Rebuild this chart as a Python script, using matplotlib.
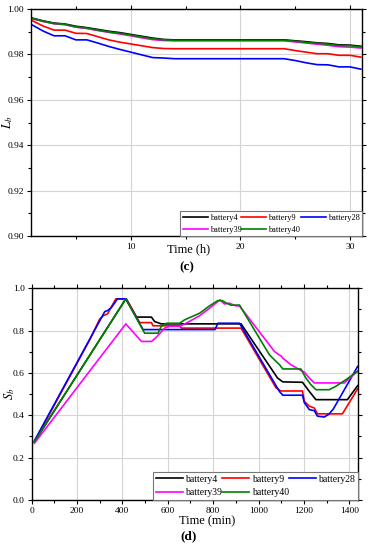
import matplotlib
matplotlib.use('Agg')
import matplotlib.pyplot as plt
from matplotlib.ticker import MultipleLocator, FormatStrFormatter

plt.rcParams['font.family'] = ['Liberation Serif', 'DejaVu Serif']
plt.rcParams['mathtext.fontset'] = 'stix'

names = ['battery4', 'battery9', 'battery28', 'battery39', 'battery40']
colors = ['black', '#ff0000', '#0000ff', '#ff00ff', '#008000']

# (c) Lb vs time in hours
hours = [1, 2, 3, 4, 5, 6, 7, 8, 9, 10, 11, 12, 13, 14, 24, 25, 26, 27, 28, 29, 30, 31]
lb_b4 = [0.9960, 0.9948, 0.9938, 0.9934, 0.9924, 0.9918, 0.9910, 0.9902, 0.9896, 0.9888, 0.9880,
         0.9872, 0.9866, 0.9864, 0.9864, 0.9860, 0.9856, 0.9851, 0.9848, 0.9842, 0.9841, 0.9836]
lb_b9 = [0.9949, 0.9925, 0.9907, 0.9907, 0.9893, 0.9892, 0.9878, 0.9864, 0.9854, 0.9846, 0.9838,
         0.9830, 0.9826, 0.9825, 0.9825, 0.9817, 0.9810, 0.9803, 0.9803, 0.9796, 0.9796, 0.9788]
lb_b28 = [0.9930, 0.9903, 0.9882, 0.9882, 0.9864, 0.9864, 0.9850, 0.9835, 0.9822, 0.9810, 0.9798,
          0.9786, 0.9784, 0.9781, 0.9781, 0.9773, 0.9763, 0.9755, 0.9754, 0.9745, 0.9745, 0.9735]
lb_b39 = [0.9957, 0.9945, 0.9935, 0.9931, 0.9920, 0.9914, 0.9905, 0.9897, 0.9890, 0.9882, 0.9873,
          0.9865, 0.9861, 0.9860, 0.9860, 0.9855, 0.9850, 0.9845, 0.9840, 0.9834, 0.9832, 0.9828]
lb_b40 = [0.9959, 0.9946, 0.9936, 0.9932, 0.9921, 0.9916, 0.9907, 0.9899, 0.9893, 0.9885, 0.9877,
          0.9869, 0.9864, 0.9862, 0.9862, 0.9858, 0.9853, 0.9849, 0.9845, 0.9839, 0.9838, 0.9833]

# (d) Sb vs time in minutes
t4 = [12, 415, 462, 528, 542, 571, 923, 1084, 1107, 1194, 1224, 1253, 1392, 1437]
s4 = [0.275, 0.95, 0.864, 0.864, 0.843, 0.832, 0.832, 0.576, 0.558, 0.556, 0.513, 0.474, 0.474, 0.54]
t9 = [12, 256, 300, 315, 335, 350, 371, 418, 476, 528, 535, 652, 660, 923, 1077, 1099, 1194, 1202,
      1224, 1246, 1260, 1370, 1437]
s9 = [0.275, 0.757, 0.855, 0.87, 0.88, 0.91, 0.95, 0.95, 0.838, 0.838, 0.823, 0.823, 0.812, 0.812,
      0.53, 0.515, 0.515, 0.466, 0.443, 0.435, 0.407, 0.407, 0.525]
t28 = [12, 286, 322, 335, 352, 378, 415, 491, 808, 821, 916, 1092, 1107, 1194, 1202, 1224, 1246,
       1260, 1290, 1310, 1330, 1437]
s28 = [0.28, 0.819, 0.89, 0.895, 0.91, 0.95, 0.95, 0.805, 0.805, 0.835, 0.835, 0.513, 0.495, 0.495,
       0.46, 0.427, 0.422, 0.396, 0.392, 0.405, 0.43, 0.631]
t39 = [12, 415, 484, 528, 550, 586, 608, 652, 681, 740, 784, 830, 850, 870, 901, 916, 1048, 1070,
       1085, 1100, 1107, 1143, 1187, 1202, 1224, 1246, 1378, 1437]
s39 = [0.268, 0.832, 0.749, 0.749, 0.769, 0.812, 0.82, 0.82, 0.835, 0.87, 0.906, 0.945, 0.926, 0.93,
       0.917, 0.917, 0.733, 0.702, 0.69, 0.68, 0.67, 0.639, 0.612, 0.604, 0.576, 0.553, 0.553, 0.608]
t40 = [12, 415, 498, 557, 571, 594, 652, 674, 740, 784, 821, 840, 860, 879, 916, 1048, 1077, 1092,
       1107, 1187, 1209, 1231, 1253, 1312, 1341, 1385, 1437]
s40 = [0.275, 0.95, 0.788, 0.788, 0.82, 0.835, 0.835, 0.851, 0.882, 0.917, 0.942, 0.942, 0.929, 0.92,
       0.921, 0.686, 0.655, 0.64, 0.619, 0.619, 0.576, 0.545, 0.521, 0.521, 0.537, 0.568, 0.608]


def style_axes(ax):
    ax.grid(True, which='major', color='#d4d4d4', lw=0.8)
    ax.set_axisbelow(True)
    for s in ax.spines.values():
        s.set_linewidth(1.0)
    ax.tick_params(which='both', direction='out', labelsize=6.8, width=0.8, pad=2)
    ax.tick_params(which='major', length=3)
    ax.tick_params(which='minor', length=2)
    ax.tick_params(which='both', top=True, right=True)


def add_legend(ax, lines, size, hl):
    # reorder so that the 3-column legend reads row by row
    order = [0, 3, 1, 4, 2]
    leg = ax.legend([lines[i] for i in order], [names[i] for i in order], ncol=3,
                    loc='lower right', bbox_to_anchor=(1, 0), borderaxespad=0,
                    fontsize=size, handlelength=hl, handletextpad=0.25,
                    columnspacing=0.0, labelspacing=0.45, borderpad=0.3,
                    fancybox=False, framealpha=1)
    leg.get_frame().set_edgecolor('#777777')
    leg.get_frame().set_linewidth(0.8)


fig = plt.figure(figsize=(3.7, 5.5), dpi=100)

ax1 = fig.add_axes([31 / 370, 1 - 236 / 550, 331 / 370, 227 / 550])
lines1 = []
for y, c in zip([lb_b4, lb_b9, lb_b28, lb_b39, lb_b40], colors):
    ln, = ax1.plot(hours, y, color=c, lw=1.2)
    lines1.append(ln)
ax1.set_xlim(0.9, 31.1)
ax1.set_ylim(0.90, 1.00)
ax1.xaxis.set_major_locator(MultipleLocator(10))
ax1.xaxis.set_minor_locator(MultipleLocator(5))
ax1.yaxis.set_major_locator(MultipleLocator(0.02))
ax1.yaxis.set_minor_locator(MultipleLocator(0.01))
ax1.yaxis.set_major_formatter(FormatStrFormatter('%.2f'))
style_axes(ax1)
ax1.set_xlabel('Time (h)', fontsize=9)
ax1.xaxis.set_label_coords(0.477, -0.058)
ax1.xaxis.label.set_va('center')
ax1.set_ylabel('$L_b$', fontsize=9)
ax1.yaxis.set_label_coords(-0.048, 0.5)
add_legend(ax1, lines1, 6.0, 3.0)
fig.text(187 / 370, 1 - 267 / 550, '(c)', ha='center', va='center', fontsize=9.5, fontweight='bold')

ax2 = fig.add_axes([31.7 / 370, 1 - 500 / 550, 326.6 / 370, 211.7 / 550])
lines2 = []
for t, y, c in zip([t4, t9, t28, t39, t40], [s4, s9, s28, s39, s40], colors):
    ln, = ax2.plot(t, y, color=c, lw=1.2)
    lines2.append(ln)
ax2.set_xlim(0, 1440)
ax2.set_ylim(0, 1.0)
ax2.xaxis.set_major_locator(MultipleLocator(200))
ax2.xaxis.set_minor_locator(MultipleLocator(100))
ax2.yaxis.set_major_locator(MultipleLocator(0.2))
ax2.yaxis.set_minor_locator(MultipleLocator(0.1))
ax2.yaxis.set_major_formatter(FormatStrFormatter('%.1f'))
style_axes(ax2)
ax2.set_xlabel('Time (min)', fontsize=9)
ax2.xaxis.set_label_coords(0.537, -0.102)
ax2.xaxis.label.set_va('center')
ax2.set_ylabel('$S_b$', fontsize=9)
ax2.yaxis.set_label_coords(-0.046, 0.5)
add_legend(ax2, lines2, 7.0, 2.8)
fig.text(189 / 370, 1 - 536 / 550, '(d)', ha='center', va='center', fontsize=9.5, fontweight='bold')

fig.savefig('out.png', dpi=100, facecolor='white')
